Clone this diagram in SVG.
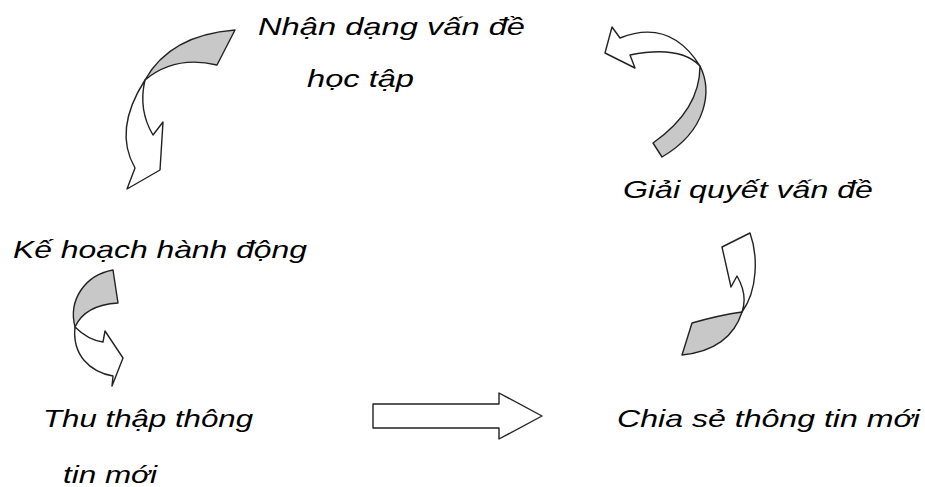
<svg xmlns="http://www.w3.org/2000/svg" width="925" height="487" viewBox="0 0 925 487">
<style>
.lbl{font-family:"Liberation Sans",Arial,sans-serif;font-style:italic;font-size:24px;fill:#000}
.front{fill:#fff;stroke:#222;stroke-width:1.4;stroke-linejoin:round}
.back{fill:#c8c8c8;stroke:#222;stroke-width:1.4;stroke-linejoin:round}
</style>
<rect width="925" height="487" fill="#fff"/>
<g id="connectors">
  <g id="arrow-top-left">
    <path class="front" d="M145,80 Q113,130 135,168 L127,189 L160,170 L163,122 L153,135 Q138,110 145,80 Z"/>
    <path class="back" d="M235,30 Q170,35 145,80 Q175,55 217,65 Z"/>
  </g>
  <g id="arrow-top-right">
    <path class="front" d="M700,66 Q670,18 620,38 L612,27 L605,53 L635,68 L630,55 Q680,45 700,66 Z"/>
    <path class="back" d="M700,66 C712,90 708,130 662,157 L653,143 Q700,110 700,66 Z"/>
  </g>
  <g id="arrow-right-bottom">
    <path class="front" d="M742,312 C758,290 758,255 750,233 L722,247 L731,287 L737,276 Q748,295 742,312 Z"/>
    <path class="back" d="M742,312 Q720,315 692,323 L682,355 Q730,350 742,312 Z"/>
  </g>
  <g id="arrow-left-mid">
    <path class="front" d="M75,327 Q88,340 103,342 L105,331 L123,358 L112,386 L113,376 C90,372 72,355 75,327 Z"/>
    <path class="back" d="M113,270 C85,275 68,300 75,327 Q85,305 118,303 Z"/>
  </g>
  <g id="arrow-straight">
    <path class="front" d="M373,404 L499,404 L499,393 L542,416 L499,439 L499,428 L373,428 Z"/>
  </g>
</g>
<g id="node-nhan-dang">
  <text class="lbl" x="258" y="35" textLength="267" lengthAdjust="spacingAndGlyphs">Nhận dạng vấn đề</text>
  <text class="lbl" x="307" y="87" textLength="107" lengthAdjust="spacingAndGlyphs">học tập</text>
</g>
<g id="node-giai-quyet">
  <text class="lbl" x="623" y="198" textLength="250" lengthAdjust="spacingAndGlyphs">Giải quyết vấn đề</text>
</g>
<g id="node-ke-hoach">
  <text class="lbl" x="13" y="258" textLength="294" lengthAdjust="spacingAndGlyphs">Kế hoạch hành động</text>
</g>
<g id="node-thu-thap">
  <text class="lbl" x="43" y="427" textLength="210" lengthAdjust="spacingAndGlyphs">Thu thập thông</text>
  <text class="lbl" x="63" y="483" textLength="94" lengthAdjust="spacingAndGlyphs">tin mới</text>
</g>
<g id="node-chia-se">
  <text class="lbl" x="617" y="427" textLength="303" lengthAdjust="spacingAndGlyphs">Chia sẻ thông tin mới</text>
</g>
</svg>
